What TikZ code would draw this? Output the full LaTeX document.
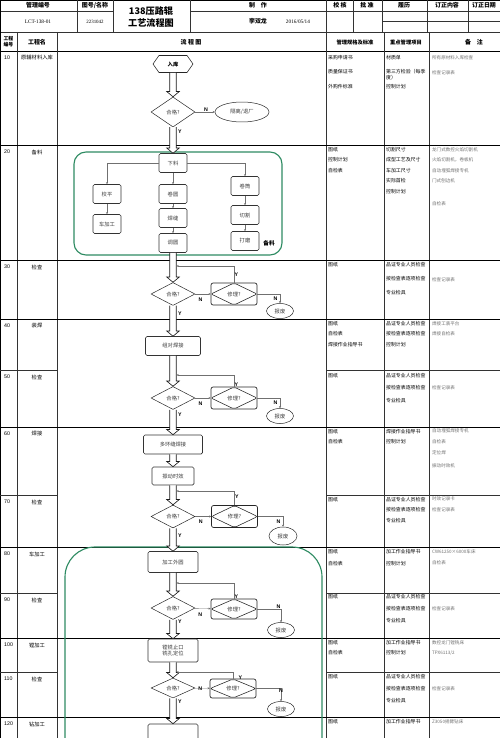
\documentclass[tikz,border=0pt]{standalone}
\usepackage{fontspec}
\setmainfont{Noto Sans CJK SC}
\newfontfamily\latserif{Liberation Serif}
\newfontfamily\latsans{Liberation Sans}
\usetikzlibrary{positioning,shapes.geometric,shapes.symbols,arrows.meta,calc}
\definecolor{lcgreen}{HTML}{2E8B62}
\definecolor{lcgrey}{HTML}{707070}
\definecolor{lctext}{HTML}{3A3A3A}
\newcommand\flowfont{\fontsize{7.5}{9}\selectfont}
\tikzset{
  grid/.style  ={line width=0.5pt, draw=black!80},
  gridk/.style ={line width=1.2pt, draw=black},
  hd/.style    ={font=\fontsize{8.5}{10}\selectfont\bfseries, inner sep=0pt},
  ttl/.style   ={font=\fontsize{13}{15}\selectfont\bfseries, inner sep=0pt},
  num/.style   ={anchor=west, font=\latsans\fontsize{7.5}{9}\selectfont, inner sep=0pt},
  pname/.style ={font=\fontsize{7.5}{9}\selectfont, inner sep=0pt},
  cell/.style  ={anchor=north west, align=left, inner sep=0pt, font=\fontsize{7}{15}\selectfont},
  rmk/.style   ={cell, text=lcgrey},
  hexa/.style  ={signal, signal to=east and west, signal pointer angle=110, draw=black!85,
                 line width=0.8pt, fill=white, minimum width=20mm, minimum height=8.5mm,
                 inner sep=0pt, font=\flowfont\bfseries},
  dmd/.style   ={diamond, draw=black!85, line width=0.7pt, fill=white, minimum width=22mm,
                 minimum height=11.5mm, inner sep=0pt, font=\flowfont, text=lctext},
  rep/.style   ={rectangle, rounded corners=3pt, draw=black!85, line width=1pt, fill=white,
                 minimum width=23mm, minimum height=11mm, inner sep=0pt, font=\flowfont, text=lctext,
                 path picture={\draw[line width=0.8pt, draw=black!85] (path picture bounding box.west)
                   -- (path picture bounding box.north) -- (path picture bounding box.east)
                   -- (path picture bounding box.south) -- cycle;}},
  elp/.style   ={ellipse, draw=black!85, line width=0.7pt, fill=white, minimum width=13.5mm,
                 minimum height=7.5mm, inner sep=0pt, font=\flowfont, text=lctext},
  bx/.style    ={rectangle, rounded corners=2pt, draw=black!80, line width=0.8pt, fill=white,
                 minimum width=14mm, minimum height=9.5mm, inner sep=1pt, align=center,
                 font=\flowfont, text=lctext},
  grnbox/.style={draw=lcgreen, line width=1.6pt},
  gar/.style   ={draw=lcgrey, line width=0.5pt, -{Stealth[length=3pt,width=3pt]}},
  % hollow block arrow, drawn downwards from start to target
  hol/.style   ={draw=black!90, line width=0.9pt, fill=white, line join=miter,
                 to path={let \p1=(\tikztostart), \p2=(\tikztotarget) in
                   (\x1-4.6pt,\y1) -- (\x1-4.6pt,\y2+7.5pt) -- (\x1-9pt,\y2+7.5pt) -- (\x2,\y2)
                   -- (\x1+9pt,\y2+7.5pt) -- (\x1+4.6pt,\y2+7.5pt) -- (\x1+4.6pt,\y1) \tikztonodes}},
  yn/.style    ={font=\latsans\bfseries\fontsize{7.5}{8}\selectfont, inner sep=0.5pt}
}

\begin{document}
\begin{tikzpicture}[x=0.5mm, y=-0.5mm]
  \useasboundingbox (0,0) rectangle (500,738);
  \clip (0,0) rectangle (500,738);

  % header grid
  \draw[gridk] (0,0) -- (500,0);
  \draw[grid] (0,11) -- (113,11);
  \draw[grid] (190,11) -- (500,11);
  \draw[grid] (382,21) -- (500,21);
  \draw[grid] (0,32) -- (500,32);
  \draw[gridk] (0,51) -- (500,51);
  \foreach \x in {77,113,190,353,382,427,468} \draw[grid] (\x,0) -- (\x,32);
  \draw[grid] (326,0) -- (326,738);
  \foreach \x in {17,57,384,429} \draw[grid] (\x,32) -- (\x,738);
  \draw[gridk] (0,0) -- (0,738);

  % row lines
  \foreach \y in {145,260,319,427,547,638,717} \draw[gridk] (0,\y) -- (500,\y);
  \foreach \y in {370,495,593,672} {
    \draw[grid] (0,\y) -- (57,\y);
    \draw[grid] (326,\y) -- (500,\y);
  }

  % header text
  \node[hd] (h1) at (38,5.5) {管理编号};
  \node[hd] (h2) at (95,5.5) {图号/名称};
  \node[ttl] (t1) at (151,11) {138压路辊};
  \node[ttl] (t2) at (151,23) {工艺流程图};
  \node[hd] (h3) at (258,5.5) {制\quad 作};
  \node[hd] (h4) at (340,5.5) {校\ 核};
  \node[hd] (h5) at (367,5.5) {批\ 准};
  \node[hd] (h6) at (404,5.5) {履历};
  \node[hd] (h7) at (447,5.5) {订正内容};
  \node[hd] (h8) at (484,5.5) {订正日期};
  \node[pname, font=\latserif\fontsize{7.5}{9}\selectfont] (v1) at (38,21.5) {LCT-138-01};
  \node[pname, font=\latserif\fontsize{7}{9}\selectfont] (v2) at (95,21.5) {2231042};
  \node[hd] (v3) at (258,21.5) {李双龙};
  \node[pname, font=\latserif\fontsize{7.5}{9}\selectfont] (v4) at (298,21.5) {2016/05/14};
  \node[hd, align=center, font=\fontsize{7}{8}\selectfont\bfseries] (c1) at (8.5,41.5) {工程\\编号};
  \node[hd] (c2) at (37,42) {工程名};
  \node[hd] (c3) at (191,42) {流\ 程\ 图};
  \node[hd, font=\fontsize{7.5}{9}\selectfont\bfseries] (c4) at (355,42) {管理规格及标准};
  \node[hd, font=\fontsize{7.5}{9}\selectfont\bfseries] (c5) at (406,42) {重点管理项目};
  \node[hd] (c6) at (474,42) {备\quad 注};

  % process numbers and names
  \foreach \n/\y/\nm in {10/51/原辅材料入库, 20/145/备料, 30/260/检查, 40/319/装焊,
      50/370/检查, 60/427/焊接, 70/495/检查, 80/547/车加工, 90/593/检查,
      100/638/镗加工, 110/672/检查, 120/717/钻加工} {
    \node[num] (no\n) at (4,\y+7) {\n};
    \node[pname] (nm\n) at (37,\y+7) {\nm};
  }

  % right-hand columns
  \node[cell, font=\fontsize{7}{20.5}\selectfont] (a10) at (328,55) {采购申请书\\质量保证书\\外购件标准};
  \node[cell, font=\fontsize{7}{8.5}\selectfont] (b10) at (386,55) {材质单\\[11.5pt]第三方检验（每季\\度）\\[5pt]控制计划};
  \node[rmk, font=\fontsize{6.5}{22.5}\selectfont] (r10) at (432,55) {所有原材料入库检查\\检查记录表};

  \node[cell] (a20) at (328,147) {图纸\\控制计划\\自检表};
  \node[cell] (b20) at (386,147) {切割尺寸\\成型工艺及尺寸\\车加工尺寸\\实际首检\\控制计划};
  \node[rmk, font=\fontsize{6.5}{15}\selectfont] (r20) at (432,147) {龙门式数控火焰切割机\\火焰切割机，卷板机\\自动埋弧焊接专机\\门式刨边机\\[17pt]自检表};

  \node[cell] (a30) at (328,262) {图纸};
  \node[cell, font=\fontsize{7}{20}\selectfont] (b30) at (386,262) {品证专业人员检查\\按检查表逐项检查\\专业检具};
  \node[rmk, font=\fontsize{6.5}{15}\selectfont] (r30) at (432,277) {检查记录表};

  \node[cell] (a40) at (328,321) {图纸\\自检表\\焊接作业指导书};
  \node[cell] (b40) at (386,321) {品证专业人员检查\\按检查表逐项检查\\控制计划};
  \node[rmk, font=\fontsize{6.5}{15}\selectfont] (r40) at (432,321) {焊接工装平台\\焊接自检表};

  \node[cell] (a50) at (328,373) {图纸};
  \node[cell, font=\fontsize{7}{18}\selectfont] (b50) at (386,373) {品证专业人员检查\\按检查表逐项检查\\专业检具};
  \node[rmk, font=\fontsize{6.5}{15}\selectfont] (r50) at (432,385) {检查记录表};

  \node[cell] (a60) at (328,429) {图纸\\自检表};
  \node[cell] (b60) at (386,429) {焊接作业指导书\\控制计划};
  \node[rmk, font=\fontsize{6.5}{15}\selectfont] (r60) at (432,429) {自动埋弧焊接专机\\自检表\\定位焊\\[4pt]振动时效机};

  \node[cell] (a70) at (328,497) {图纸};
  \node[cell] (b70) at (386,497) {品证专业人员检查\\按检查表逐项检查\\专业检具};
  \node[rmk, font=\fontsize{6.5}{15}\selectfont] (r70) at (432,497) {时效记录卡\\检查记录表};

  \node[cell, font=\fontsize{7}{17}\selectfont] (a80) at (328,549) {图纸\\自检表};
  \node[cell, font=\fontsize{7}{17}\selectfont] (b80) at (386,549) {加工作业指导书\\控制计划};
  \node[rmk, font=\fontsize{6.5}{17}\selectfont] (r80) at (432,549) {CW61250×6000车床\\自检表};

  \node[cell] (a90) at (328,594) {图纸};
  \node[cell, font=\fontsize{7}{17}\selectfont] (b90) at (386,594) {品证专业人员检查\\按检查表逐项检查\\专业检具};
  \node[rmk, font=\fontsize{6.5}{15}\selectfont] (r90) at (432,606) {检查记录表};

  \node[cell] (a100) at (328,640) {图纸\\自检表};
  \node[cell] (b100) at (386,640) {加工作业指导书\\控制计划};
  \node[rmk, font=\fontsize{6.5}{15}\selectfont] (r100) at (432,640) {数控龙门镗铣床\\TPX6113/2};

  \node[cell] (a110) at (328,674) {图纸};
  \node[cell, font=\fontsize{7}{17}\selectfont] (b110) at (386,674) {品证专业人员检查\\按检查表逐项检查\\专业检具};
  \node[rmk, font=\fontsize{6.5}{15}\selectfont] (r110) at (432,686) {检查记录表};

  \node[cell] (a120) at (328,719) {图纸};
  \node[cell] (b120) at (386,719) {加工作业指导书};
  \node[rmk, font=\fontsize{6.5}{15}\selectfont] (r120) at (432,719) {Z3050摇臂钻床};

  % green frames
  \draw[grnbox, rounded corners=6mm] (74,152) rectangle (282,255);
  \draw[grnbox, rounded corners=15mm] (65,547) rectangle (322,800);

  % 10
  \node[hexa] (rk) at (173,64) {入库};
  \node[dmd, minimum height=15mm] (q1) at (173,112) {合格?};
  \node[elp, minimum width=27mm, minimum height=10mm] (gl) at (242,112) {隔离/退厂};
  \draw[hol] (rk.south) to (q1.north);
  \draw[gar] (q1) -- (gl) node[yn, pos=0.55, above] {N};

  % 20
  \node[bx] (xl) at (173,163) {下料};
  \node[bx] (jy) at (173,194) {卷圆};
  \node[bx] (hf) at (173,218) {焊缝};
  \node[bx] (ty) at (173,243) {调圆};
  \node[bx] (jp) at (107,194) {校平};
  \node[bx] (cj) at (107,224) {车加工};
  \node[bx] (jt) at (245,186) {卷筒};
  \node[bx] (qg) at (245,215) {切割};
  \node[bx] (dm) at (245,241) {打磨};
  \node[font=\fontsize{8}{9}\selectfont\bfseries, inner sep=0pt] (bl) at (269,243) {备料};
  \draw[hol] (q1.south) to node[yn, pos=0.8, right=0.6mm] {Y} (xl.north);
  \draw[gar] (xl.west) -| (jp.north);
  \draw[gar] (xl) -- (jy);
  \draw[gar] (xl.east) -| (jt.north);
  \draw[gar] (jp) -- (cj);
  \draw[gar] (jy) -- (hf);
  \draw[gar] (hf) -- (ty);
  \draw[gar] (jt) -- (qg);
  \draw[gar] (qg) -- (dm);

  % 30
  \node[dmd] (q2) at (173,294) {合格?};
  \node[rep] (r2) at (234,294) {修理?};
  \node[elp] (bf2) at (280,311) {报废};
  \coordinate (fb2) at (176.6,266);
  \draw[hol] (ty.south) to (q2.north);
  \draw[gar] (q2) -- (r2) node[yn, pos=0.35, below=1.5mm] {N};
  \draw[gar] (r2.north) |- (fb2) node[yn, pos=0.25, right] {Y};
  \draw[gar] (r2.east) -| (bf2.north) node[yn, pos=0.75, left=1mm] {N};

  % 40
  \node[bx, minimum width=27.5mm] (hj) at (173,346) {组对焊接};
  \draw[hol] (q2.south) to node[yn, pos=0.7, right=0.6mm] {Y} (hj.north);

  % 50
  \node[dmd] (q3) at (173,398) {合格?};
  \node[rep] (r3) at (234,398) {修理?};
  \node[elp] (bf3) at (280,416) {报废};
  \coordinate (fb3) at (176.6,375);
  \draw[hol] (hj.south) to (q3.north);
  \draw[gar] (q3) -- (r3) node[yn, pos=0.35, below=1.5mm] {N};
  \draw[gar] (r3.north) |- (fb3) node[yn, pos=0.1, right] {Y};
  \draw[gar] (r3.east) -| (bf3.north) node[yn, pos=0.75, left=1mm] {N};

  % 60
  \node[bx, minimum width=29.5mm] (hz) at (173,444.5) {多环缝焊接};
  \node[bx, minimum width=21mm, minimum height=9mm] (zd) at (173,476) {振动时效};
  \draw[hol] (q3.south) to node[yn, pos=0.75, right=0.6mm] {Y} (hz.north);
  \draw[hol] (hz.south) to (zd.north);

  % 70
  \node[dmd] (q4) at (173,516.5) {合格?};
  \node[rep] (r4) at (234.5,516.5) {修理?};
  \node[elp, minimum width=14mm, minimum height=9mm] (bf4) at (283,536) {报废};
  \coordinate (fb4) at (176.6,491);
  \draw[hol] (zd.south) to (q4.north);
  \draw[gar] (q4) -- (r4) node[yn, pos=0.35, below=1.5mm] {N};
  \draw[gar] (r4.north) |- (fb4) node[yn, pos=0.3, right] {Y};
  \draw[gar] (r4.east) -| (bf4.north) node[yn, pos=0.75, left=1mm] {N};

  % 80
  \node[bx, minimum width=25mm, minimum height=10.5mm] (jw) at (173,562) {加工外圆};
  \draw[hol] (q4.south) to node[yn, pos=0.6, right=0.6mm] {Y} (jw.north);

  % 90
  \node[dmd] (q5) at (173,608) {合格?};
  \node[rep, minimum height=10mm] (r5) at (234,609) {修理?};
  \node[elp] (bf5) at (281,630) {报废};
  \coordinate (fb5) at (176.6,583);
  \draw[hol] (jw.south) to (q5.north);
  \draw[gar] (q5) -- (r5) node[yn, pos=0.35, below=2mm] {N};
  \draw[gar] (r5.north) |- (fb5) node[yn, pos=0.05, right] {Y};
  \draw[gar] (r5.east) -| (bf5.north) node[yn, pos=0.5, above left] {N};

  % 100
  \node[bx, minimum width=25mm, minimum height=11.5mm] (tx) at (173,650.5) {镗铣止口\\铣孔定位};
  \draw[hol] (q5.south) to node[yn, pos=0.85, right=0.6mm] {Y} (tx.north);

  % 110
  \node[dmd, minimum height=10mm] (q6) at (173,688) {合格?};
  \node[rep, minimum height=9.5mm] (r6) at (233,688.5) {修理?};
  \node[elp] (bf6) at (281,709) {报废};
  \coordinate (fb6) at (176.6,672);
  \draw[hol] (tx.south) to (q6.north);
  \draw[gar] (q6) -- (r6) node[yn, pos=0.2, right] {N};
  \draw[gar] (r6.north) |- (fb6) node[yn, pos=0.1, right=2.5mm] {Y};
  \draw[gar] (r6.east) -| (bf6.north) node[yn, pos=0.5, below] {N};

  % 120
  \node[bx, minimum width=25mm, minimum height=10.5mm] (zk) at (173,734.5) {};
  \draw[hol] (q6.south) to node[yn, pos=0.85, right=0.6mm] {Y} (zk.north);
\end{tikzpicture}
\end{document}
